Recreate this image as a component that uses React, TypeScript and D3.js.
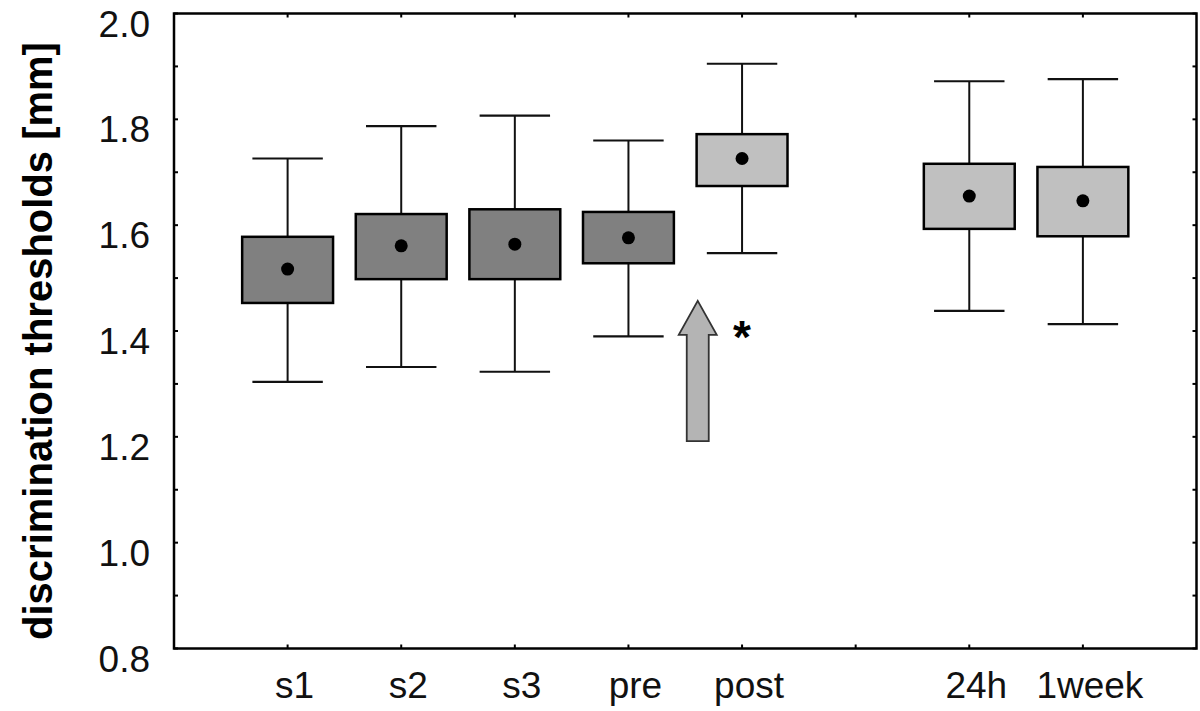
import React from "react";
import * as d3 from "d3";

// ---- data ----
const categories = ["s1", "s2", "s3", "pre", "post", "24h", "1week"];
const positions = [1, 2, 3, 4, 5, 7, 8];
const whiskerHigh = [1.726, 1.787, 1.807, 1.76, 1.905, 1.872, 1.876];
const boxHigh = [1.578, 1.621, 1.63, 1.625, 1.772, 1.716, 1.71];
const centers = [1.517, 1.561, 1.564, 1.576, 1.726, 1.655, 1.646];
const boxLow = [1.453, 1.498, 1.498, 1.528, 1.674, 1.593, 1.579];
const whiskerLow = [1.304, 1.332, 1.323, 1.39, 1.547, 1.438, 1.413];
const group = ["before", "before", "before", "before", "after", "after", "after"];
const yTicks = [0.8, 1.0, 1.2, 1.4, 1.6, 1.8, 2.0];
const yMinorTicks = [0.9, 1.1, 1.3, 1.5, 1.7, 1.9];
const xTickPositions = [1, 2, 3, 4, 5, 6, 7, 8];
const arrowAnno = { x: 4.61, top: 1.457, bottom: 1.192, label: "*" };
const yTitle = "discrimination thresholds [mm]";

const W = 1200;
const H = 711;
const left = 174;
const right = 1196.5;
const top = 13.5;
const bottom = 648.5;

export default function App() {
  const x = d3.scaleLinear().domain([0, 9]).range([left, right]);
  const y = d3.scaleLinear().domain([0.8, 2.0]).range([bottom, top]);
  const band = x(1) - x(0);
  const boxW = band * 0.8;
  const capW = band * 0.62;
  const font = "'Liberation Sans', Arial, sans-serif";
  const fillFor = (g: string) => (g === "before" ? "#808080" : "#c0c0c0");

  const ax = x(arrowAnno.x);
  const ayTop = y(arrowAnno.top);
  const ayBot = y(arrowAnno.bottom);
  const headHalf = 19;
  const shaftHalf = 11;
  const headBase = ayTop + 34;
  const arrowPts: [number, number][] = [
    [ax, ayTop],
    [ax + headHalf, headBase],
    [ax + shaftHalf, headBase],
    [ax + shaftHalf, ayBot],
    [ax - shaftHalf, ayBot],
    [ax - shaftHalf, headBase],
    [ax - headHalf, headBase],
  ];
  const arrowPath = d3.line()(arrowPts) + "Z";

  return (
    <svg
      width={W}
      height={H}
      style={{ position: "absolute", left: 0, top: 0, background: "#fff" }}
    >
      <rect x={0} y={0} width={W} height={H} fill="#fff" />
      {/* y axis title */}
      <text
        transform={`translate(52, ${(top + bottom) / 2 + 10}) rotate(-90)`}
        textAnchor="middle"
        fontFamily={font}
        fontWeight="bold"
        fontSize={40}
        fill="#000"
      >
        {yTitle}
      </text>
      {/* y tick labels */}
      {yTicks.map((t) => (
        <text
          key={"yl" + t}
          x={150}
          y={y(t) + 23}
          textAnchor="end"
          fontFamily={font}
          fontSize={37}
          fill="#111"
        >
          {t.toFixed(1)}
        </text>
      ))}
      {/* ticks inside frame */}
      {[...yTicks, ...yMinorTicks].map((t) => (
        <g key={"yt" + t}>
          <line x1={left} x2={left + 4} y1={y(t)} y2={y(t)} stroke="#000" strokeWidth={2} />
          <line x1={right} x2={right - 4} y1={y(t)} y2={y(t)} stroke="#000" strokeWidth={2} />
        </g>
      ))}
      {xTickPositions.map((p) => (
        <g key={"xt" + p}>
          <line x1={x(p)} x2={x(p)} y1={bottom} y2={bottom - 4} stroke="#000" strokeWidth={2} />
          <line x1={x(p)} x2={x(p)} y1={top} y2={top + 4} stroke="#000" strokeWidth={2} />
        </g>
      ))}
      {/* x labels */}
      {categories.map((c, i) => (
        <text
          key={"xl" + c}
          x={x(positions[i]) + 7}
          y={698}
          textAnchor="middle"
          fontFamily={font}
          fontSize={37}
          fill="#111"
        >
          {c}
        </text>
      ))}
      {/* boxes */}
      {categories.map((c, i) => {
        const cx = x(positions[i]);
        return (
          <g key={"b" + c}>
            <line x1={cx} x2={cx} y1={y(whiskerHigh[i])} y2={y(boxHigh[i])} stroke="#111" strokeWidth={2} />
            <line x1={cx} x2={cx} y1={y(boxLow[i])} y2={y(whiskerLow[i])} stroke="#111" strokeWidth={2} />
            <line x1={cx - capW / 2} x2={cx + capW / 2} y1={y(whiskerHigh[i])} y2={y(whiskerHigh[i])} stroke="#111" strokeWidth={2.2} />
            <line x1={cx - capW / 2} x2={cx + capW / 2} y1={y(whiskerLow[i])} y2={y(whiskerLow[i])} stroke="#111" strokeWidth={2.2} />
            <rect
              x={cx - boxW / 2}
              y={y(boxHigh[i])}
              width={boxW}
              height={y(boxLow[i]) - y(boxHigh[i])}
              fill={fillFor(group[i])}
              stroke="#000"
              strokeWidth={2.5}
            />
            <circle cx={cx} cy={y(centers[i])} r={6.5} fill="#000" />
          </g>
        );
      })}
      {/* arrow annotation */}
      <path d={arrowPath} fill="#b4b4b4" stroke="#333" strokeWidth={1.8} strokeLinejoin="miter" />
      <text
        x={x(5)}
        y={ayTop + 52}
        textAnchor="middle"
        fontFamily={font}
        fontWeight="bold"
        fontSize={46}
        fill="#000"
      >
        {arrowAnno.label}
      </text>
      {/* frame */}
      <rect x={left} y={top} width={right - left} height={bottom - top} fill="none" stroke="#000" strokeWidth={2.5} />
    </svg>
  );
}
